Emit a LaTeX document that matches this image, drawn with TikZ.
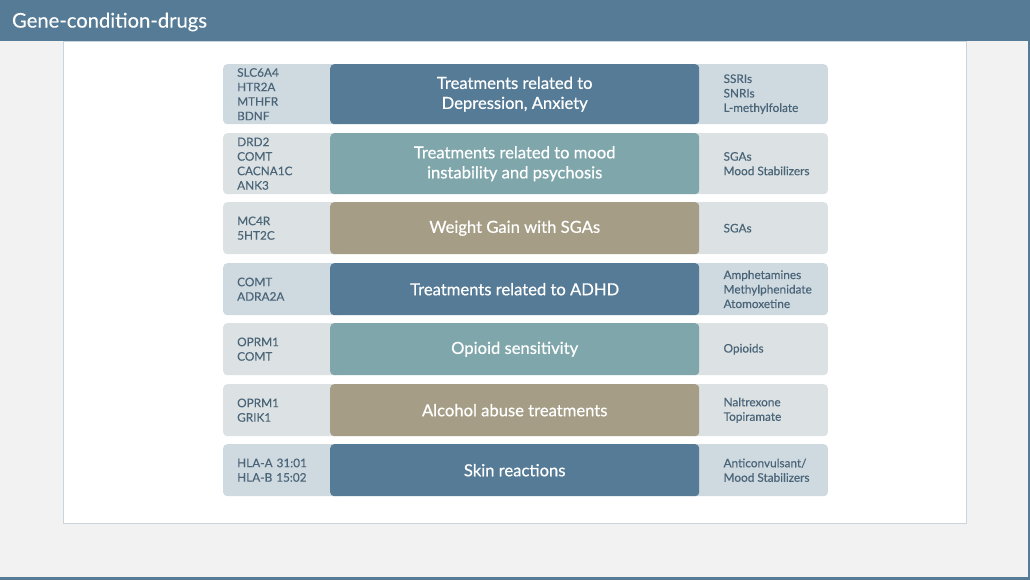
\documentclass[tikz,border=0pt]{standalone}
\usepackage{fontspec}
\setmainfont{Lato}
\newfontfamily\medfont{Lato}[FakeBold=0.6]
\newfontfamily\smallfont{Lato}[FakeBold=0.3]
\usepackage{tikz}
\usetikzlibrary{positioning}

\definecolor{pagebg}{HTML}{F2F2F2}
\definecolor{barblue}{HTML}{567B96}
\definecolor{panelline}{HTML}{C8D5DC}
\definecolor{deepblue}{HTML}{557B96}
\definecolor{teal}{HTML}{7FA6AB}
\definecolor{tan}{HTML}{A59D86}
\definecolor{sideblue}{HTML}{CFD9E0}
\definecolor{sidegrey}{HTML}{DCE2E3}
\definecolor{sidetext}{HTML}{4A6478}

\tikzset{
  genebox/.style={anchor=north west, rounded corners=4pt, inner xsep=14pt,
    text width=90pt, align=left, minimum width=118pt, text=sidetext,
    font=\smallfont\fontsize{11.8}{14.5}\selectfont},
  drugbox/.style={anchor=north east, rounded corners=4pt, minimum width=140pt},
  drugtext/.style={anchor=west, align=left, inner sep=0pt, text=sidetext,
    font=\smallfont\fontsize{11.8}{14.5}\selectfont},
  condbox/.style={anchor=north west, rounded corners=4pt, minimum width=369pt,
    align=center, text=white, font=\medfont\fontsize{16.6}{20}\selectfont}
}

\begin{document}
\begin{tikzpicture}[x=1pt,y=-1pt]
\useasboundingbox (0,0) rectangle (1030,580);
%%background
\fill[pagebg] (0,0) rectangle (1030,580);
\fill[barblue] (0,0) rectangle (1030,41);
\fill[barblue] (0,577) rectangle (1030,580);
\fill[barblue] (1028,41) rectangle (1030,580);
\node[anchor=west, text=white, font=\smallfont\fontsize{20.2}{24}\selectfont] (title) at (8.5,22) {Gene-condition-drugs};
\draw[panelline, fill=white] (63,41) rectangle (966,523);

%%row 1
\node[genebox, fill=sideblue, minimum height=60pt] (g1) at (223,64) {SLC6A4\\HTR2A\\MTHFR\\BDNF};
\node[drugbox, fill=sideblue, minimum height=60pt] (b1) at (828,64) {};
\node[condbox, fill=deepblue, minimum height=60pt] (c1) at (330,64) {Treatments related to\\Depression, Anxiety};
\node[drugtext] (d1) at ([xshift=24pt]c1.east) {SSRIs\\SNRIs\\L-methylfolate};

%%row 2
\node[genebox, fill=sidegrey, minimum height=61pt] (g2) at (223,133) {DRD2\\COMT\\CACNA1C\\ANK3};
\node[drugbox, fill=sidegrey, minimum height=61pt] (b2) at (828,133) {};
\node[condbox, fill=teal, minimum height=61pt] (c2) at (330,133) {Treatments related to mood\\instability and psychosis};
\node[drugtext] (d2) at ([xshift=24pt]c2.east) {SGAs\\Mood Stabilizers};

%%row 3
\node[genebox, fill=sidegrey, minimum height=52pt] (g3) at (223,202) {MC4R\\5HT2C};
\node[drugbox, fill=sidegrey, minimum height=52pt] (b3) at (828,202) {};
\node[condbox, fill=tan, minimum height=52pt] (c3) at (330,202) {Weight Gain with SGAs};
\node[drugtext] (d3) at ([xshift=24pt]c3.east) {SGAs};

%%row 4
\node[genebox, fill=sideblue, minimum height=52pt] (g4) at (223,263) {COMT\\ADRA2A};
\node[drugbox, fill=sideblue, minimum height=52pt] (b4) at (828,263) {};
\node[condbox, fill=deepblue, minimum height=52pt] (c4) at (330,263) {Treatments related to ADHD};
\node[drugtext] (d4) at ([xshift=24pt]c4.east) {Amphetamines\\Methylphenidate\\Atomoxetine};

%%row 5
\node[genebox, fill=sidegrey, minimum height=52pt] (g5) at (223,323) {OPRM1\\COMT};
\node[drugbox, fill=sidegrey, minimum height=52pt] (b5) at (828,323) {};
\node[condbox, fill=teal, minimum height=52pt] (c5) at (330,323) {Opioid sensitivity};
\node[drugtext] (d5) at ([xshift=24pt]c5.east) {Opioids};

%%row 6
\node[genebox, fill=sidegrey, minimum height=52pt] (g6) at (223,384) {OPRM1\\GRIK1};
\node[drugbox, fill=sidegrey, minimum height=52pt] (b6) at (828,384) {};
\node[condbox, fill=tan, minimum height=52pt] (c6) at (330,384) {Alcohol abuse treatments};
\node[drugtext] (d6) at ([xshift=24pt]c6.east) {Naltrexone\\Topiramate};

%%row 7
\node[genebox, fill=sideblue, minimum height=52pt] (g7) at (223,444) {HLA-A 31:01\\HLA-B 15:02};
\node[drugbox, fill=sideblue, minimum height=52pt] (b7) at (828,444) {};
\node[condbox, fill=deepblue, minimum height=52pt] (c7) at (330,444) {Skin reactions};
\node[drugtext] (d7) at ([xshift=24pt]c7.east) {Anticonvulsant/\\Mood Stabilizers};
\end{tikzpicture}
\end{document}
